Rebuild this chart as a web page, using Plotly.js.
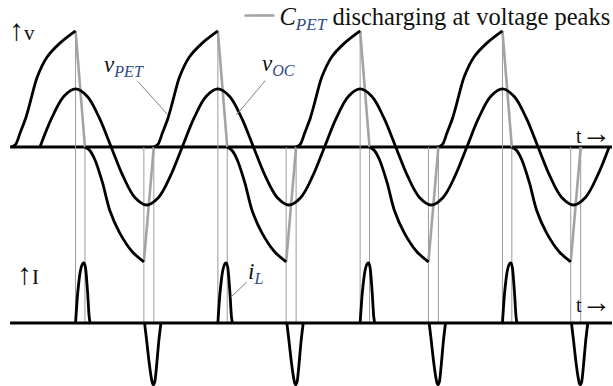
<!DOCTYPE html>
<html>
<head>
<meta charset="utf-8">
<script src="https://cdn.plot.ly/plotly-3.0.1.min.js"></script>
<style>
  html, body { margin: 0; padding: 0; background: #fff; }
  #chart { width: 613px; height: 386px; }
</style>
</head>
<body>
<div id="chart"></div>
<script>
// Time is measured in periods of the open-circuit voltage (t = 0 at its first rising zero crossing).
// Voltages are in units of the v_OC amplitude, currents in units of the i_L peak.

// Switching cycles shown
const cycles = [0, 1, 2, 3];

// One period of the open-circuit voltage v_OC
const vocT = [0, 0.083, 0.167, 0.25, 0.333, 0.417, 0.5, 0.583, 0.667, 0.75, 0.833, 0.917];
const vocV = [0, 0.5, 0.87, 1.0, 0.87, 0.5, 0, -0.5, -0.87, -1.0, -0.87, -0.5];
const vocEnd = [4.0, 0];

// v_PET rising branch (relative to each cycle start), ends at the voltage peak
const riseT = [-0.20, -0.17, -0.14, -0.10, -0.07, -0.02, 0.05, 0.14, 0.25];
const riseV = [0, 0.05, 0.24, 0.50, 0.76, 1.20, 1.55, 1.79, 2.00];

// v_PET falling branch after the positive discharge, ends at the negative peak
const fallT = [0.316, 0.35, 0.386, 0.44, 0.49, 0.56, 0.65, 0.73];
const fallV = [0, -0.06, -0.22, -0.62, -1.09, -1.48, -1.81, -1.98];

// Fast C_PET discharges at the voltage peaks (start -> end)
const dischargeT = [[0.25, 0.316], [0.73, 0.80]];
const dischargeV = [[2.00, 0], [-1.98, 0]];

// Inductor current pulses
const posPulseT = [0.25, 0.265, 0.285, 0.30, 0.31, 0.32, 0.335, 0.345, 0.352];
const posPulseI = [0, 0.50, 0.88, 0.99, 1.00, 0.92, 0.50, 0.12, 0];
const negPulseT = [0.735, 0.75, 0.765, 0.78, 0.79, 0.797, 0.807, 0.82, 0.835, 0.85];
const negPulseI = [0, -0.30, -0.62, -0.88, -1.00, -1.03, -0.98, -0.70, -0.30, 0];

// Marker lines at the switching instants: [time in cycle, starting voltage level]
const markerT = [0.25, 0.316, 0.73, 0.80];
const markerV = [2.00, 0, 0, 0];

// Time axis extent
const axisT = [-0.21, 4.02];

// Axis ranges (V and I share the same plotting area)
const xRange = [-0.281, 4.027];
const vRange = [-4.121, 2.534];
const iRange = [-1.05, 5.383];

// Voltage-axis value that sits on the current baseline (I = 0)
const vAtIZero = vRange[1] - (iRange[1] - 0) / (iRange[1] - iRange[0]) * (vRange[1] - vRange[0]);

function tile(tTpl, yTpl, gaps) {
  const xs = [], ys = [];
  cycles.forEach(k => {
    tTpl.forEach((t, i) => { xs.push(k + t); ys.push(yTpl[i]); });
    if (gaps) { xs.push(null); ys.push(null); }
  });
  return [xs, ys];
}

const BLACK = '#000000';
const GREY_THICK = '#a3a3a3';
const GREY_THIN = '#9c9c9c';
const SUBC = '#2f4a86';

const traces = [];

// Baselines
traces.push({ x: axisT, y: [0, 0], yaxis: 'y', mode: 'lines', line: { color: BLACK, width: 3 }, showlegend: false });
traces.push({ x: axisT, y: [0, 0], yaxis: 'y2', mode: 'lines', line: { color: BLACK, width: 3 }, showlegend: false });

// Thin marker lines from the voltage plot down to the current baseline
{
  const xs = [], ys = [];
  cycles.forEach(k => {
    markerT.forEach((t, i) => { xs.push(k + t, k + t, null); ys.push(markerV[i], vAtIZero, null); });
  });
  traces.push({ x: xs, y: ys, yaxis: 'y', mode: 'lines', line: { color: GREY_THIN, width: 1 }, showlegend: false });
}

// C_PET discharge segments
{
  const xs = [], ys = [];
  cycles.forEach(k => {
    dischargeT.forEach((seg, i) => {
      xs.push(k + seg[0], k + seg[1], null);
      ys.push(dischargeV[i][0], dischargeV[i][1], null);
    });
  });
  traces.push({
    x: xs, y: ys, yaxis: 'y', mode: 'lines',
    line: { color: GREY_THICK, width: 2.6 },
    name: '<i>C</i><sub><i><span style="color:' + SUBC + '">PET</span></i></sub> discharging at voltage peaks',
    showlegend: true
  });
}

// v_OC
{
  const [xs, ys] = tile(vocT, vocV, false);
  xs.push(vocEnd[0]); ys.push(vocEnd[1]);
  traces.push({ x: xs, y: ys, yaxis: 'y', mode: 'lines', line: { color: BLACK, width: 2.8, shape: 'spline', smoothing: 1 }, showlegend: false });
}

// v_PET
{
  const [rx, ry] = tile(riseT, riseV, true);
  const [fx, fy] = tile(fallT, fallV, true);
  traces.push({ x: rx, y: ry, yaxis: 'y', mode: 'lines', connectgaps: false, line: { color: BLACK, width: 2.8, shape: 'spline', smoothing: 0.8 }, showlegend: false });
  traces.push({ x: fx, y: fy, yaxis: 'y', mode: 'lines', connectgaps: false, line: { color: BLACK, width: 2.8, shape: 'spline', smoothing: 0.8 }, showlegend: false });
}

// i_L
{
  const [px, py] = tile(posPulseT, posPulseI, true);
  const [nx, ny] = tile(negPulseT, negPulseI, true);
  traces.push({ x: px, y: py, yaxis: 'y2', mode: 'lines', connectgaps: false, line: { color: BLACK, width: 2.8, shape: 'spline', smoothing: 0.6 }, showlegend: false });
  traces.push({ x: nx, y: ny, yaxis: 'y2', mode: 'lines', connectgaps: false, line: { color: BLACK, width: 2.8, shape: 'spline', smoothing: 0.6 }, showlegend: false });
}

const SERIF = 'Liberation Serif, Times New Roman, serif';
const W = 613, H = 386;
const px = v => v / W;
const py = v => 1 - v / H;
const UP = '<span style="font-size:30px">\u2191</span>';
const RIGHT = '<span style="font-size:30px">\u2192</span>';

const annotations = [
  { text: UP + 'v', xref: 'paper', yref: 'paper', x: px(7), y: py(29), xanchor: 'left', yanchor: 'middle', showarrow: false, font: { family: SERIF, size: 21, color: '#111' } },
  { text: UP + 'I', xref: 'paper', yref: 'paper', x: px(15), y: py(273), xanchor: 'left', yanchor: 'middle', showarrow: false, font: { family: SERIF, size: 21, color: '#111' } },
  { text: 't' + RIGHT, xref: 'paper', yref: 'paper', x: px(614), y: py(132), xanchor: 'right', yanchor: 'middle', showarrow: false, font: { family: SERIF, size: 20, color: '#111' } },
  { text: 't' + RIGHT, xref: 'paper', yref: 'paper', x: px(614), y: py(301), xanchor: 'right', yanchor: 'middle', showarrow: false, font: { family: SERIF, size: 20, color: '#111' } },
  {
    text: '<i>v</i><sub><i><span style="color:' + SUBC + '">PET</span></i></sub>',
    x: 0.9, y: 0.55, xref: 'x', yref: 'y', ax: -44, ay: -49,
    showarrow: true, arrowhead: 0, arrowwidth: 1, arrowcolor: '#808080', standoff: 0,
    font: { family: SERIF, size: 23, color: '#111' }
  },
  {
    text: '<i>v</i><sub><i><span style="color:' + SUBC + '">OC</span></i></sub>',
    x: 1.38, y: 0.55, xref: 'x', yref: 'y', ax: 42, ay: -50,
    showarrow: true, arrowhead: 0, arrowwidth: 1, arrowcolor: '#808080', standoff: 0,
    font: { family: SERIF, size: 23, color: '#111' }
  },
  {
    text: '<i>i</i><sub><i><span style="color:' + SUBC + '">L</span></i></sub>',
    x: 1.342, y: 0.43, xref: 'x', yref: 'y2', ax: 25, ay: -24,
    showarrow: true, arrowhead: 0, arrowwidth: 1, arrowcolor: '#808080', standoff: 0,
    font: { family: SERIF, size: 23, color: '#111' }
  }
];

const layout = {
  width: W, height: H,
  margin: { l: 0, r: 0, t: 0, b: 0, autoexpand: false },
  paper_bgcolor: '#ffffff', plot_bgcolor: '#ffffff',
  xaxis: { range: xRange, visible: false, fixedrange: true },
  yaxis: { range: vRange, visible: false, fixedrange: true },
  yaxis2: { range: iRange, overlaying: 'y', visible: false, fixedrange: true },
  showlegend: true,
  legend: {
    x: 1.004, xanchor: 'right', y: 1.018, yanchor: 'top',
    bgcolor: 'rgba(0,0,0,0)', borderwidth: 0,
    font: { family: SERIF, size: 24.5, color: '#111' },
    itemwidth: 30
  },
  annotations: annotations,
  hovermode: false
};

Plotly.newPlot('chart', traces, layout, { staticPlot: true, displayModeBar: false });
</script>
</body>
</html>
